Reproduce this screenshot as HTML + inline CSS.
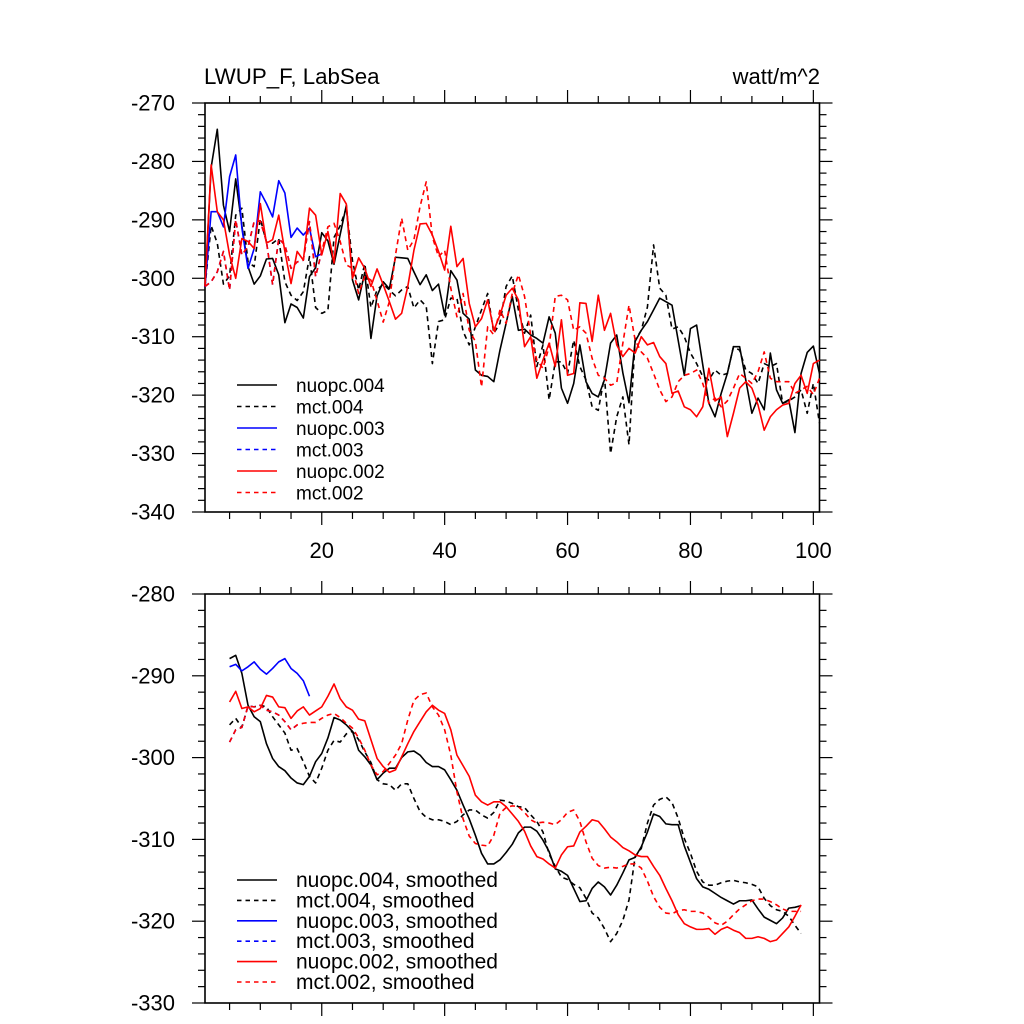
<!DOCTYPE html>
<html><head><meta charset="utf-8"><title>LWUP_F LabSea</title>
<style>
html,body{margin:0;padding:0;background:#fff;}
svg{display:block;font-family:"Liberation Sans",sans-serif;}
</style></head>
<body>
<svg id="chart" width="1024" height="1024" viewBox="0 0 1024 1024" xmlns="http://www.w3.org/2000/svg">
<rect x="0" y="0" width="1024" height="1024" fill="#fff"/>
<text x="204" y="84" font-size="22.3" fill="#000">LWUP_F, LabSea</text>
<text x="820" y="84" font-size="22" fill="#000" text-anchor="end">watt/m^2</text>
<g id="top"></g>
<g id="bot"></g>
</svg>
<script>
// ---------- data: top panel (raw), x = 1..101 ----------
const rawNuopc004 = [-301.5,-281,-274.5,-287.5,-292,-283,-291,-298,-301,-299.6,-296.7,-296.6,-299.4,-307.6,-304.4,-305,-306.8,-299.7,-298.2,-292.2,-293.6,-297.6,-292.5,-287.5,-300.3,-303.7,-299,-310.3,-303,-300.6,-301.8,-296.4,
-296.5,-296.6,-298.9,-301.1,-299.4,-302.1,-301,-306.3,-298.7,-300.3,-306,-307,-315.7,-316.6,-316.8,-317.7,-312.3,-307.7,-303.1,-308.9,-308.7,-309.7,-310.3,-311.1,-306.6,-309.4,-318.8,-321.4,-318,-311.4,-317.7,-319.7,-320.3,
-317.4,-311.1,-309.7,-316.2,-321.3,-310.8,-308.9,-307.4,-305.4,-303.4,-304,-304.6,-310.6,-316.6,-308.6,-308,-314.8,-321.4,-323.7,-319.7,-316.3,-311.7,-311.7,-317.4,-323.1,-320.5,-322.5,-312.8,-319.1,-321.4,-320.8,-326.4,-316.3,-312.7,-311.6,-316.3];
const rawMct004 = [-301.5,-291,-294,-301,-299.6,-289.2,-288,-297.2,-298,-289.8,-293.8,-294,-293.2,-300.6,-302.9,-303.8,-302.3,-296.3,-305,-306,-305.5,-293,-291,-288,-297,-302,-297.5,-305,-302,-301,-302,-303,
-302,-301.4,-305.1,-303.7,-304.8,-314.6,-307.4,-307.1,-303.4,-303.4,-309.1,-311.4,-308.3,-305.4,-302.6,-309.4,-307.7,-301.4,-299.6,-305.4,-309.4,-306.3,-315.1,-311.4,-320.8,-314.3,-314.3,-316.3,-310.6,-315.1,-317.4,-322,-322.6,
-316.8,-330,-323.7,-320.3,-328.5,-310.6,-308.9,-304.9,-294.3,-301.7,-302.9,-308.7,-308.3,-310,-312.8,-314.6,-316.8,-317.4,-315.7,-316.6,-316.3,-311.7,-312.3,-315.7,-316.3,-318,-314.6,-315.1,-314.6,-321.4,-321,-320.3,-319.1,-323.1,-318,-324.8];
const rawNuopc003 = [-301.5,-288.6,-288.6,-291.2,-282.6,-278.9,-291.4,-298.3,-294.9,-285.2,-287.2,-289.5,-283.3,-285.4,-293,-291.4,-292.6,-291.4,-296.3,-295.8];
const rawMct003 = [-301.4,-300.6,-298.9,-295.4,-302,-290,-296,-294.6,-290.3,-290.2,-293.7,-301.1,-293.2,-294.3,-298.3,-297.2,-296.9,-290.3,-299.7,-295.4];
const rawNuopc002 = [-301.4,-280.6,-288.6,-290,-296,-300,-293.2,-293.7,-294.9,-287.2,-294,-293.4,-289.2,-295.4,-300.9,-295.4,-296.9,-288,-289.2,-296,-292,-297.4,-285.5,-287.3,-300,-296.5,-298.3,-301.4,-298.4,-301.1,-304,-307,
-306,-301.4,-295.2,-290.7,-290.6,-292.6,-295.4,-298.6,-291.1,-298,-296.6,-304.3,-308.3,-306.9,-303.7,-308.9,-306.3,-302.9,-301.7,-303.7,-311.7,-310,-317.1,-314,-311.1,-315.1,-307.1,-316.6,-316.3,-304.2,-304.3,-310.8,-302.9,
-308.9,-306,-311.4,-313.4,-312,-312.8,-310,-311.4,-311,-313.4,-314.6,-319.7,-319.3,-322,-322.5,-323.7,-322,-315.4,-321,-320.3,-327.1,-323.1,-318.8,-317.7,-318.8,-321.7,-326,-323.7,-322.5,-321.7,-321.4,-318,-316.6,-319.7,-314.6,-314];
const rawMct002 = [-301.4,-300.6,-298.9,-295.4,-302,-290,-296,-294.6,-290.3,-290.2,-293.7,-301.1,-293.2,-294.3,-298.3,-297.2,-296.9,-290.3,-299.7,-295.4,-291.2,-290.6,-293.7,-297.7,-298.3,-302.6,-299.7,-300.3,-303.8,-307.5,-304,-296,
-289.7,-295.2,-293.4,-287.7,-283.5,-292.9,-296.3,-295.2,-301.7,-306.6,-302.6,-308.9,-310.8,-318.6,-308.3,-309.7,-305.4,-307.7,-302.6,-299.4,-303.1,-309.7,-314,-315.4,-311.7,-303.1,-302.9,-303.7,-308.9,-308.3,-309.4,-313.7,-316.6,
-317.1,-318.3,-317.9,-311.1,-304.6,-310.6,-312.6,-313.7,-316.3,-319.1,-321.1,-320.3,-317.7,-316.6,-316.3,-315.7,-318,-321.4,-320.5,-322,-321,-318.8,-316.3,-317.1,-318,-316,-312.6,-317.1,-317.7,-317.7,-317.7,-319.7,-319.1,-318.5,-319.9,-317.1];

// ---------- data: bottom panel (smoothed), x = 5..98 ----------
const smoothStart = 5;
const smNuopc004 = [-287.9,-287.5,-289.7,-293.6,-295,-295.6,-298.3,-300.1,-301.1,-301.6,-302.5,-303.1,-303.3,-302.3,-300.5,-299.5,-297.6,-295.1,-295.4,-296,-296.8,-299.1,-299.9,-300.9,-302.7,-301.9,-301.3,-301.3,-300,-299.3,-299.2,-299.7,
-300.6,-301.1,-301.1,-301.5,-302.7,-304,-305.8,-307.5,-309.5,-311.7,-313,-313,-312.5,-311.6,-310.6,-309.2,-308.5,-308.5,-309,-310.1,-311.5,-313.6,-313.9,-314.4,-316,-317.6,-317.5,-316,-315.2,
-315.8,-316.8,-315.6,-314.1,-312.5,-312.2,-310.9,-309.1,-306.9,-307.2,-308.1,-308.2,-308.2,-310.8,-312.8,-314.8,-315.8,-316.1,-316.6,-317.1,-317.5,-317.9,-317.5,-317.5,-317.4,-318.5,-319.5,-319.9,-320.3,-319.6,-318.4,-318.3,-318.1];
const smMct004 = [-296,-295.2,-296.3,-293.7,-293.8,-293.6,-293.8,-295,-296,-297,-299.1,-298.9,-300.5,-302.3,-303.1,-301.3,-299.1,-297.9,-298.1,-297.1,-296.8,-297.8,-299.3,-300.6,-302.7,-303.2,-303.3,-304,-303.2,-303.2,-305,-306.6,
-307.3,-307.6,-307.6,-307.8,-308.2,-307.8,-307,-306.4,-306.4,-307,-307.4,-306.7,-305.2,-305.3,-305.6,-306,-306.1,-307,-307.8,-309.1,-311.8,-313.3,-314.6,-314.9,-315.5,-315.9,-317.2,-319,-319.6,
-320.9,-322.5,-321.5,-319.9,-317.4,-312.1,-311.1,-308,-305.8,-305.1,-304.8,-305.5,-307.4,-309.9,-311.7,-313.9,-315.2,-315.6,-315.6,-315.3,-315.1,-315,-315.2,-315.3,-315.5,-315.8,-317.2,-318.1,-318.6,-318.8,-319.4,-320.5,-321.5];
const smNuopc003 = [-288.9,-288.6,-289.4,-288.9,-288.3,-289.2,-289.8,-289.1,-288.3,-287.9,-289.1,-289.7,-290.6,-292.5];
const smMct003 = [-298.1,-296.6,-296.3,-293.7,-293.8,-293.6,-294.2,-294.4,-294.8,-295.6,-296.6,-296];
const smNuopc002 = [-293.2,-291.9,-294,-293.8,-294.4,-294,-292.4,-292.6,-293.8,-293.9,-295.2,-294.3,-293.8,-294.8,-294.3,-293.8,-292.5,-291,-292.8,-293.8,-294.2,-295.3,-295.5,-297.8,-300.1,-301.1,-301.8,-301.5,-299.9,-298.3,-296.8,-295.6,
-294.4,-293.6,-294.2,-294.6,-296.6,-299.7,-301,-302.3,-304.6,-305.4,-305.8,-305.4,-305.4,-306,-306.9,-307.8,-309,-310.8,-312.1,-312.4,-313,-313.5,-311.9,-310.9,-310.8,-309.1,-308.4,-307.6,-307.8,
-308.7,-309.7,-310.3,-311,-311.4,-311.9,-312.1,-312.1,-313.3,-314.4,-316,-317.5,-319.2,-320.3,-320.7,-321,-321,-320.9,-321.6,-321,-320.7,-321.1,-321.4,-322.1,-322.1,-321.9,-322.1,-322.5,-322.3,-321.5,-320.7,-319.4,-318];
const smMct002 = [-298.1,-296.6,-296.3,-293.7,-293.8,-293.6,-294.2,-294.4,-294.8,-295.6,-296.6,-296,-295.8,-295.7,-295.7,-295.2,-294.8,-294.6,-295.1,-295.8,-296.4,-297.6,-299.1,-300.9,-302.1,-301.7,-300.7,-299.7,-298.3,-295.4,-293,-292.3,
-292.1,-293.8,-294.8,-296.6,-299.7,-304.2,-307.5,-309.6,-310.5,-310.7,-310.8,-309.5,-306.8,-306.1,-305.9,-306,-306.7,-307.6,-308,-307.9,-308,-308.2,-307.6,-306.7,-306.4,-307.8,-310.3,-312.3,-313.2,
-313.5,-313.4,-313.5,-313.3,-313,-313,-313.5,-315.1,-317,-318.3,-319,-319.1,-318.7,-318.6,-318.8,-318.8,-319,-319.5,-320.2,-320.5,-320,-319.2,-318.5,-318,-317.5,-317.3,-317.3,-317.6,-318,-318.5,-318.8,-318.8,-318.8];

// ---------- tick labels ----------
const topYTicks = [-270,-280,-290,-300,-310,-320,-330,-340];
const botYTicks = [-280,-290,-300,-310,-320,-330];
const xTickLabels = [20,40,60,80,100];
const topLegendLabels = ["nuopc.004","mct.004","nuopc.003","mct.003","nuopc.002","mct.002"];
const botLegendLabels = ["nuopc.004, smoothed","mct.004, smoothed","nuopc.003, smoothed","mct.003, smoothed","nuopc.002, smoothed","mct.002, smoothed"];

const NS = "http://www.w3.org/2000/svg";
const X0 = 205, X1 = 819.5, XMIN = 1, XMAX = 101;
function xScale(v){ return X0 + (v - XMIN) / (XMAX - XMIN) * (X1 - X0); }
function mkY(top, bottom, vmax, vmin){ return v => top + (vmax - v) / (vmax - vmin) * (bottom - top); }

function el(tag, attrs, parent){
  const e = document.createElementNS(NS, tag);
  for (const k in attrs) e.setAttribute(k, attrs[k]);
  parent.appendChild(e);
  return e;
}

const styles = [
  {color:"#000", dash:null},
  {color:"#000", dash:"5 4"},
  {color:"#0000ff", dash:null},
  {color:"#0000ff", dash:"5 4"},
  {color:"#ff0000", dash:null},
  {color:"#ff0000", dash:"5 4"}
];

function drawPanel(g, top, bottom, vmax, vmin, yTicks, minorStep, showXLabels, seriesList, startX, legendLabels, legendY0, legendDy, legendFont, names, prefix){
  const yScale = mkY(top, bottom, vmax, vmin);
  const frame = el("rect", {x:X0, y:top, width:X1-X0, height:bottom-top, fill:"none", stroke:"#000", "stroke-width":"1.6"}, g);
  
  
  for (let v = vmin; v <= vmax + 0.001; v += minorStep){
    const y = yScale(v);
    const major = Math.abs(v % 10) < 0.001;
    const len = major ? 13 : 7;
    const lt = el("line", {x1:X0-len, y1:y, x2:X0, y2:y, stroke:"#000", "stroke-width":"1.2"}, g);
    
    
    const rt = el("line", {x1:X1, y1:y, x2:X1+len, y2:y, stroke:"#000", "stroke-width":"1.2"}, g);
    
    
  }
  yTicks.forEach(v => {
    const t = el("text", {x:175, y:yScale(v)+7.5, "font-size":"22", "text-anchor":"end", fill:"#000"}, g);
    t.textContent = String(v);
    
    
  });
  for (let v = 5; v <= 100; v += 5){
    const x = xScale(v);
    const major = v % 20 === 0;
    const len = major ? 13 : 7;
    const tt = el("line", {x1:x, y1:top-len, x2:x, y2:top, stroke:"#000", "stroke-width":"1.2"}, g);
    
    
    const bt = el("line", {x1:x, y1:bottom, x2:x, y2:bottom+len, stroke:"#000", "stroke-width":"1.2"}, g);
    
    
  }
  if (showXLabels){
    xTickLabels.forEach(v => {
      const t = el("text", {x:xScale(v), y:bottom+46, "font-size":"22", "text-anchor":"middle", fill:"#000"}, g);
      t.textContent = String(v);
      
      
    });
  }
  [0,1,2,3,4,5].forEach(i => {
    const arr = seriesList[i];
    const st = styles[i];
    const d = arr.map((v, k) => (k ? "L" : "M") + xScale(startX + k).toFixed(2) + "," + yScale(v).toFixed(2)).join(" ");
    const p = el("path", {d:d, fill:"none", stroke:st.color, "stroke-width":"1.6", "stroke-linejoin":"round"}, g);
    if (st.dash) p.setAttribute("stroke-dasharray", st.dash);
    
    
  });
  legendLabels.forEach((lab, i) => {
    const y = legendY0 + i * legendDy;
    const st = styles[i];
    const ln = el("line", {x1:237, y1:y, x2:277, y2:y, stroke:st.color, "stroke-width":"1.6"}, g);
    if (st.dash) ln.setAttribute("stroke-dasharray", "4.5 4");
    
    
    const t = el("text", {x:296, y:y+7, "font-size":legendFont, fill:"#000"}, g);
    t.textContent = lab;
    
    
  });
}

const names = ["nuopc-004","mct-004","nuopc-003","mct-003","nuopc-002","mct-002"];
drawPanel(document.getElementById("top"), 103, 512, -270, -340, topYTicks, 2, true,
  [rawNuopc004, rawMct004, rawNuopc003, rawMct003, rawNuopc002, rawMct002], 1,
  topLegendLabels, 385, 21.5, "19", names, "raw");
drawPanel(document.getElementById("bot"), 594, 1003, -280, -330, botYTicks, 2, false,
  [smNuopc004, smMct004, smNuopc003, smMct003, smNuopc002, smMct002], smoothStart,
  botLegendLabels, 880, 20.4, "21", names, "smoothed");
</script>
</body></html>
